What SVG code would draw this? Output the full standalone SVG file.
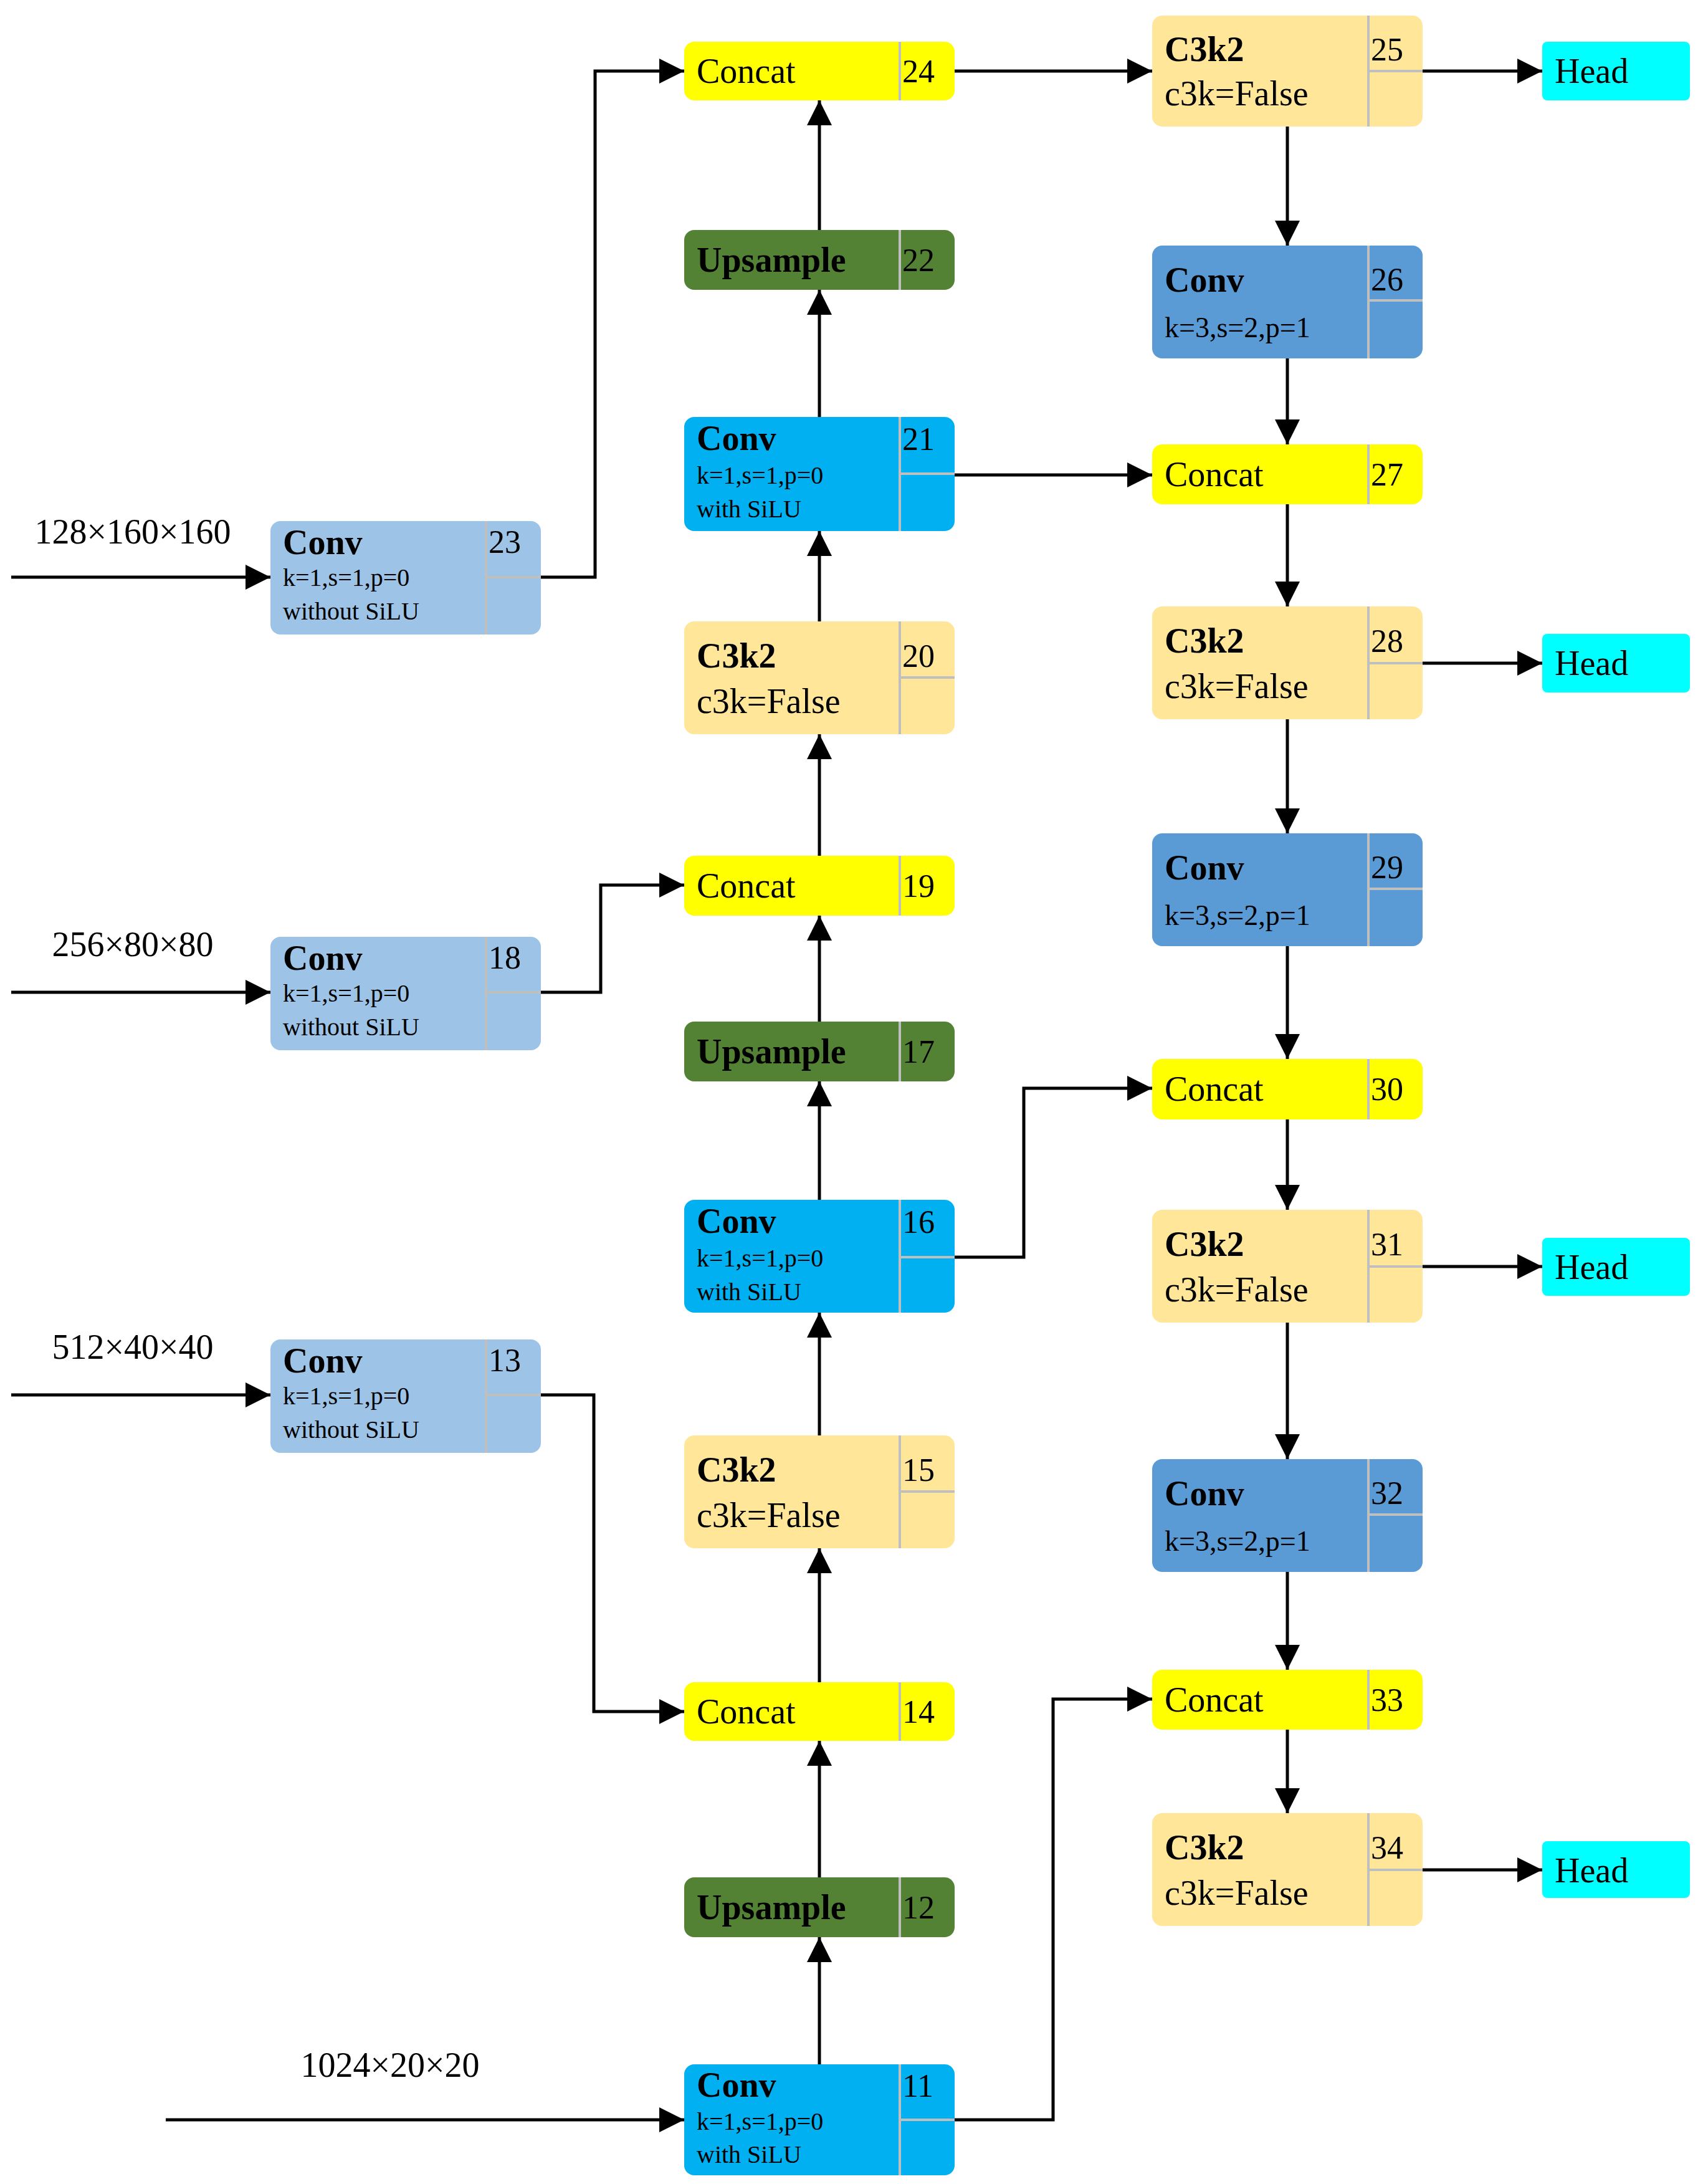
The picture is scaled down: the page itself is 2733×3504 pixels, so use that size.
<svg xmlns="http://www.w3.org/2000/svg" width="2733" height="3504" viewBox="0 0 2733 3504">
<defs>
<marker id="m" viewBox="0 0 10 10" refX="10" refY="5" markerWidth="8" markerHeight="8" orient="auto"><path d="M0,0L10,5L0,10z" fill="#000"/></marker>
<style>
text{font-family:"Liberation Serif","Times New Roman",serif;fill:#000}
.t{font-size:56px}.b{font-size:56px;font-weight:bold}.s{font-size:40px}.m{font-size:46px}.n{font-size:52px}
.d{stroke:#bfbfbf;stroke-width:4;fill:none}
.c{stroke:#000;stroke-width:5;fill:none;marker-end:url(#m)}
.y{fill:#ffff00}.o{fill:#ffe699}.g{fill:#548235}.sb{fill:#00b0f0}.lb{fill:#9dc3e6}.mb{fill:#5b9bd5}.h{fill:#00ffff}
</style>
</defs>
<rect width="2733" height="3504" fill="#fff"/>
<g id="connectors">
<path class="c" d="M18,926H434"/>
<path class="c" d="M868,926H955V114H1098"/>
<path class="c" d="M18,1592H434"/>
<path class="c" d="M868,1592H964V1420H1098"/>
<path class="c" d="M18,2238H434"/>
<path class="c" d="M868,2238H953V2746H1098"/>
<path class="c" d="M266,3401H1098"/>
<path class="c" d="M1315,3312V3108"/>
<path class="c" d="M1315,3012V2793"/>
<path class="c" d="M1315,2699V2484"/>
<path class="c" d="M1315,2303V2106"/>
<path class="c" d="M1315,1925V1735"/>
<path class="c" d="M1315,1639V1469"/>
<path class="c" d="M1315,1373V1178"/>
<path class="c" d="M1315,997V852"/>
<path class="c" d="M1315,669V465"/>
<path class="c" d="M1315,369V161"/>
<path class="c" d="M1532,114H1849"/>
<path class="c" d="M1532,762H1849"/>
<path class="c" d="M1532,2017H1643V1746H1849"/>
<path class="c" d="M1532,3401H1690V2726H1849"/>
<path class="c" d="M2066,203V394"/>
<path class="c" d="M2066,575V713"/>
<path class="c" d="M2066,809V973"/>
<path class="c" d="M2066,1154V1337"/>
<path class="c" d="M2066,1518V1699"/>
<path class="c" d="M2066,1796V1941"/>
<path class="c" d="M2066,2122V2341"/>
<path class="c" d="M2066,2522V2679"/>
<path class="c" d="M2066,2775V2909"/>
<path class="c" d="M2283,114H2475"/>
<path class="c" d="M2283,1064H2475"/>
<path class="c" d="M2283,2032H2475"/>
<path class="c" d="M2283,3000H2475"/>
</g>
<g id="labels">
<text class="t" x="213" y="872" text-anchor="middle">128×160×160</text>
<text class="t" x="213" y="1534" text-anchor="middle">256×80×80</text>
<text class="t" x="213" y="2180" text-anchor="middle">512×40×40</text>
<text class="t" x="626" y="3332" text-anchor="middle">1024×20×20</text>
</g>
<g id="n23"><rect class="lb" x="434" y="836" width="434" height="182" rx="16"/><path class="d" d="M780,836V1018M780,926H868"/><text class="b" x="454" y="889">Conv</text><text class="s" x="454" y="940">k=1,s=1,p=0</text><text class="s" x="454" y="994">without SiLU</text><text class="n" x="784" y="887">23</text></g>
<g id="n18"><rect class="lb" x="434" y="1503" width="434" height="182" rx="16"/><path class="d" d="M780,1503V1685M780,1592H868"/><text class="b" x="454" y="1556">Conv</text><text class="s" x="454" y="1607">k=1,s=1,p=0</text><text class="s" x="454" y="1661">without SiLU</text><text class="n" x="784" y="1554">18</text></g>
<g id="n13"><rect class="lb" x="434" y="2149" width="434" height="182" rx="16"/><path class="d" d="M780,2149V2331M780,2238H868"/><text class="b" x="454" y="2202">Conv</text><text class="s" x="454" y="2253">k=1,s=1,p=0</text><text class="s" x="454" y="2307">without SiLU</text><text class="n" x="784" y="2200">13</text></g>
<g id="n24"><rect class="y" x="1098" y="67" width="434" height="94" rx="16"/><path class="d" d="M1444,67V161"/><text class="t" x="1118" y="133">Concat</text><text class="n" x="1448" y="132">24</text></g>
<g id="n22"><rect class="g" x="1098" y="369" width="434" height="96" rx="16"/><path class="d" d="M1444,369V465"/><text class="b" x="1118" y="436">Upsample</text><text class="n" x="1448" y="435">22</text></g>
<g id="n21"><rect class="sb" x="1098" y="669" width="434" height="183" rx="16"/><path class="d" d="M1444,669V852M1444,760H1532"/><text class="b" x="1118" y="722">Conv</text><text class="s" x="1118" y="776">k=1,s=1,p=0</text><text class="s" x="1118" y="830">with SiLU</text><text class="n" x="1448" y="722">21</text></g>
<g id="n20"><rect class="o" x="1098" y="997" width="434" height="181" rx="16"/><path class="d" d="M1444,997V1178M1444,1087H1532"/><text class="b" x="1118" y="1071">C3k2</text><text class="t" x="1118" y="1144">c3k=False</text><text class="n" x="1448" y="1070">20</text></g>
<g id="n19"><rect class="y" x="1098" y="1373" width="434" height="96" rx="16"/><path class="d" d="M1444,1373V1469"/><text class="t" x="1118" y="1440">Concat</text><text class="n" x="1448" y="1439">19</text></g>
<g id="n17"><rect class="g" x="1098" y="1639" width="434" height="96" rx="16"/><path class="d" d="M1444,1639V1735"/><text class="b" x="1118" y="1706">Upsample</text><text class="n" x="1448" y="1705">17</text></g>
<g id="n16"><rect class="sb" x="1098" y="1925" width="434" height="181" rx="16"/><path class="d" d="M1444,1925V2106M1444,2017H1532"/><text class="b" x="1118" y="1978">Conv</text><text class="s" x="1118" y="2032">k=1,s=1,p=0</text><text class="s" x="1118" y="2086">with SiLU</text><text class="n" x="1448" y="1978">16</text></g>
<g id="n15"><rect class="o" x="1098" y="2303" width="434" height="181" rx="16"/><path class="d" d="M1444,2303V2484M1444,2393H1532"/><text class="b" x="1118" y="2377">C3k2</text><text class="t" x="1118" y="2450">c3k=False</text><text class="n" x="1448" y="2376">15</text></g>
<g id="n14"><rect class="y" x="1098" y="2699" width="434" height="94" rx="16"/><path class="d" d="M1444,2699V2793"/><text class="t" x="1118" y="2765">Concat</text><text class="n" x="1448" y="2764">14</text></g>
<g id="n12"><rect class="g" x="1098" y="3012" width="434" height="96" rx="16"/><path class="d" d="M1444,3012V3108"/><text class="b" x="1118" y="3079">Upsample</text><text class="n" x="1448" y="3078">12</text></g>
<g id="n11"><rect class="sb" x="1098" y="3312" width="434" height="178" rx="16"/><path class="d" d="M1444,3312V3490M1444,3401H1532"/><text class="b" x="1118" y="3364">Conv</text><text class="s" x="1118" y="3417">k=1,s=1,p=0</text><text class="s" x="1118" y="3470">with SiLU</text><text class="n" x="1448" y="3364">11</text></g>
<g id="n25"><rect class="o" x="1849" y="25" width="434" height="178" rx="16"/><path class="d" d="M2196,25V203M2196,114H2283"/><text class="b" x="1869" y="98">C3k2</text><text class="t" x="1869" y="169">c3k=False</text><text class="n" x="2200" y="97">25</text></g>
<g id="h25"><rect class="h" x="2475" y="67" width="237" height="94" rx="8"/><text class="t" x="2495" y="133">Head</text></g>
<g id="n26"><rect class="mb" x="1849" y="394" width="434" height="181" rx="16"/><path class="d" d="M2196,394V575M2196,482H2283"/><text class="b" x="1869" y="468">Conv</text><text class="m" x="1869" y="541">k=3,s=2,p=1</text><text class="n" x="2200" y="466">26</text></g>
<g id="n27"><rect class="y" x="1849" y="713" width="434" height="96" rx="16"/><path class="d" d="M2196,713V809"/><text class="t" x="1869" y="780">Concat</text><text class="n" x="2200" y="779">27</text></g>
<g id="n28"><rect class="o" x="1849" y="973" width="434" height="181" rx="16"/><path class="d" d="M2196,973V1154M2196,1064H2283"/><text class="b" x="1869" y="1047">C3k2</text><text class="t" x="1869" y="1120">c3k=False</text><text class="n" x="2200" y="1046">28</text></g>
<g id="h28"><rect class="h" x="2475" y="1017" width="237" height="94" rx="8"/><text class="t" x="2495" y="1083">Head</text></g>
<g id="n29"><rect class="mb" x="1849" y="1337" width="434" height="181" rx="16"/><path class="d" d="M2196,1337V1518M2196,1426H2283"/><text class="b" x="1869" y="1411">Conv</text><text class="m" x="1869" y="1484">k=3,s=2,p=1</text><text class="n" x="2200" y="1409">29</text></g>
<g id="n30"><rect class="y" x="1849" y="1699" width="434" height="97" rx="16"/><path class="d" d="M2196,1699V1796"/><text class="t" x="1869" y="1766">Concat</text><text class="n" x="2200" y="1765">30</text></g>
<g id="n31"><rect class="o" x="1849" y="1941" width="434" height="181" rx="16"/><path class="d" d="M2196,1941V2122M2196,2032H2283"/><text class="b" x="1869" y="2015">C3k2</text><text class="t" x="1869" y="2088">c3k=False</text><text class="n" x="2200" y="2014">31</text></g>
<g id="h31"><rect class="h" x="2475" y="1986" width="237" height="93" rx="8"/><text class="t" x="2495" y="2052">Head</text></g>
<g id="n32"><rect class="mb" x="1849" y="2341" width="434" height="181" rx="16"/><path class="d" d="M2196,2341V2522M2196,2430H2283"/><text class="b" x="1869" y="2415">Conv</text><text class="m" x="1869" y="2488">k=3,s=2,p=1</text><text class="n" x="2200" y="2413">32</text></g>
<g id="n33"><rect class="y" x="1849" y="2679" width="434" height="96" rx="16"/><path class="d" d="M2196,2679V2775"/><text class="t" x="1869" y="2746">Concat</text><text class="n" x="2200" y="2745">33</text></g>
<g id="n34"><rect class="o" x="1849" y="2909" width="434" height="181" rx="16"/><path class="d" d="M2196,2909V3090M2196,3000H2283"/><text class="b" x="1869" y="2983">C3k2</text><text class="t" x="1869" y="3056">c3k=False</text><text class="n" x="2200" y="2982">34</text></g>
<g id="h34"><rect class="h" x="2475" y="2954" width="237" height="91" rx="8"/><text class="t" x="2495" y="3020">Head</text></g>
</svg>
